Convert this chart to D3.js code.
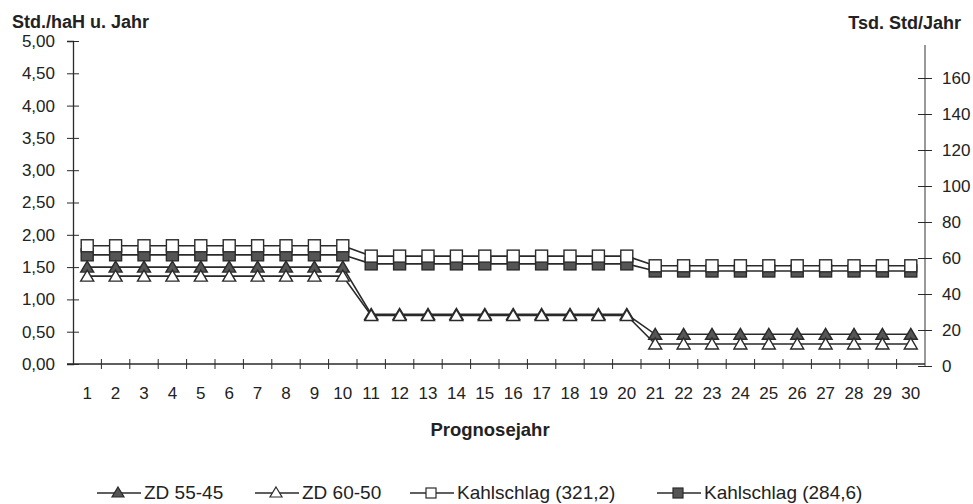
<!DOCTYPE html>
<html><head><meta charset="utf-8">
<script src="https://cdn.jsdelivr.net/npm/d3@7"></script>
<style>body{margin:0;background:#fff}svg{display:block}</style>
</head><body>
<svg id="c" width="973" height="504"></svg>
<script>
const years = d3.range(1, 31);
const zd5545 = [1.50,1.50,1.50,1.50,1.50,1.50,1.50,1.50,1.50,1.50, 0.77,0.77,0.77,0.77,0.77,0.77,0.77,0.77,0.77,0.77, 0.46,0.46,0.46,0.46,0.46,0.46,0.46,0.46,0.46,0.46];
const zd6050 = [1.36,1.36,1.36,1.36,1.36,1.36,1.36,1.36,1.36,1.36, 0.75,0.75,0.75,0.75,0.75,0.75,0.75,0.75,0.75,0.75, 0.31,0.31,0.31,0.31,0.31,0.31,0.31,0.31,0.31,0.31];
const kahl3212 = [1.83,1.83,1.83,1.83,1.83,1.83,1.83,1.83,1.83,1.83, 1.67,1.67,1.67,1.67,1.67,1.67,1.67,1.67,1.67,1.67, 1.52,1.52,1.52,1.52,1.52,1.52,1.52,1.52,1.52,1.52];
const kahl2846 = [1.69,1.69,1.69,1.69,1.69,1.69,1.69,1.69,1.69,1.69, 1.55,1.55,1.55,1.55,1.55,1.55,1.55,1.55,1.55,1.55, 1.44,1.44,1.44,1.44,1.44,1.44,1.44,1.44,1.44,1.44];
const leftTicks = [0,0.5,1,1.5,2,2.5,3,3.5,4,4.5,5];
const rightTicks = [0,20,40,60,80,100,120,140,160];
const seriesNames = ["ZD 55-45","ZD 60-50","Kahlschlag (321,2)","Kahlschlag (284,6)"];

const svg = d3.select("#c");
const L = 73, R = 925, T = 41, B = 364;
const x = d3.scaleBand().domain(years).range([L, R]);
const y = d3.scaleLinear().domain([0,5]).range([B, T]);
const y2 = d3.scaleLinear().domain([0,180]).range([B+2, T+1]);
const fmt = d => d.toFixed(2).replace(".", ",");
const dark = "#2a2a2a", fillc = "#555";
const font = "'Liberation Sans', Arial, sans-serif";

// left axis
const gL = svg.append("g").attr("transform", `translate(${L},0)`)
  .call(d3.axisLeft(y).tickValues(leftTicks).tickFormat(fmt).tickSize(6).tickPadding(12));
gL.select(".domain").attr("stroke", dark).attr("stroke-width", 1.3);
gL.selectAll(".tick line").attr("x2", 6).attr("x1", -6).attr("stroke", dark);
gL.selectAll(".tick text").attr("font-family", font).attr("font-size", 17).attr("fill", "#222");

// right axis
const gR = svg.append("g").attr("transform", `translate(${R},0)`)
  .call(d3.axisRight(y2).tickValues(rightTicks).tickSize(7).tickPadding(10));
gR.select(".domain").attr("stroke", "#555").attr("stroke-width", 1.2).attr("d", `M0,${T+4}V${B+2}`);
gR.selectAll(".tick line").attr("x1", -7).attr("x2", 7).attr("stroke", dark);
gR.selectAll(".tick text").attr("font-family", font).attr("font-size", 17).attr("fill", "#222");

// x axis
const gX = svg.append("g").attr("transform", `translate(0,${B})`)
  .call(d3.axisBottom(x).tickSize(0).tickPadding(23));
gX.select(".domain").attr("stroke", dark).attr("stroke-width", 1.3).attr("d", `M${L-6},0H${R}`);
gX.selectAll(".tick text").attr("font-family", font).attr("font-size", 17).attr("fill", "#222");
svg.append("g").selectAll("line").data(years.slice(1)).join("line")
  .attr("x1", d => x(d)).attr("x2", d => x(d)).attr("y1", B-5).attr("y2", B+5)
  .attr("stroke", dark).attr("stroke-width", 1);

// titles
svg.append("text").attr("x", 12).attr("y", 28).text("Std./haH u. Jahr")
  .attr("font-family", font).attr("font-weight", "bold").attr("font-size", 18).attr("fill", "#222");
svg.append("text").attr("x", 961).attr("y", 29).attr("text-anchor", "end").text("Tsd. Std/Jahr")
  .attr("font-family", font).attr("font-weight", "bold").attr("font-size", 18).attr("fill", "#222");
svg.append("text").attr("x", 490).attr("y", 436).attr("text-anchor", "middle").text("Prognosejahr")
  .attr("font-family", font).attr("font-weight", "bold").attr("font-size", 18.5).attr("fill", "#222");

// series (drawing order: filled square, open square, filled triangle, open triangle)
const series = [
  {name: seriesNames[3], vals: kahl2846, shape: "square", fill: fillc},
  {name: seriesNames[2], vals: kahl3212, shape: "square", fill: "#fff"},
  {name: seriesNames[0], vals: zd5545, shape: "tri", fill: fillc},
  {name: seriesNames[1], vals: zd6050, shape: "tri", fill: "#fff"},
];
const cx = d => x(d) + x.bandwidth()/2;
const line = d3.line().x((v,i) => cx(years[i])).y(v => y(v));
function marker(g, shape, fill, px, py){
  if (shape === "square") {
    g.append("rect").attr("x", px-6).attr("y", py-6).attr("width", 12).attr("height", 12)
      .attr("fill", fill).attr("stroke", dark).attr("stroke-width", 1.4);
  } else {
    g.append("path").attr("d", `M${px},${py-6}L${px+6.5},${py+5}L${px-6.5},${py+5}Z`)
      .attr("fill", fill).attr("stroke", dark).attr("stroke-width", 1.4);
  }
}
series.forEach(s => {
  svg.append("path").attr("d", line(s.vals)).attr("fill", "none")
    .attr("stroke", dark).attr("stroke-width", 1.6);
});
series.forEach(s => {
  const g = svg.append("g");
  s.vals.forEach((v,i) => marker(g, s.shape, s.fill, cx(years[i]), y(v)));
});

// legend
const legend = [
  {name: seriesNames[0], shape: "tri", fill: fillc, x0: 97},
  {name: seriesNames[1], shape: "tri", fill: "#fff", x0: 255},
  {name: seriesNames[2], shape: "square", fill: "#fff", x0: 410},
  {name: seriesNames[3], shape: "square", fill: fillc, x0: 657},
];
const ly = 493;
legend.forEach(l => {
  const g = svg.append("g");
  g.append("line").attr("x1", l.x0).attr("x2", l.x0+44).attr("y1", ly).attr("y2", ly)
    .attr("stroke", dark).attr("stroke-width", 1.4);
  if (l.shape === "square") {
    g.append("rect").attr("x", l.x0+16).attr("y", ly-5).attr("width", 10).attr("height", 10)
      .attr("fill", l.fill).attr("stroke", dark).attr("stroke-width", 1.2);
  } else {
    g.append("path").attr("d", `M${l.x0+21},${ly-6}L${l.x0+27},${ly+4}L${l.x0+15},${ly+4}Z`)
      .attr("fill", l.fill).attr("stroke", dark).attr("stroke-width", 1.2);
  }
  g.append("text").attr("x", l.x0+47).attr("y", ly+6).text(l.name)
    .attr("font-family", font).attr("font-size", 19).attr("fill", "#222");
});
</script>
</body></html>
